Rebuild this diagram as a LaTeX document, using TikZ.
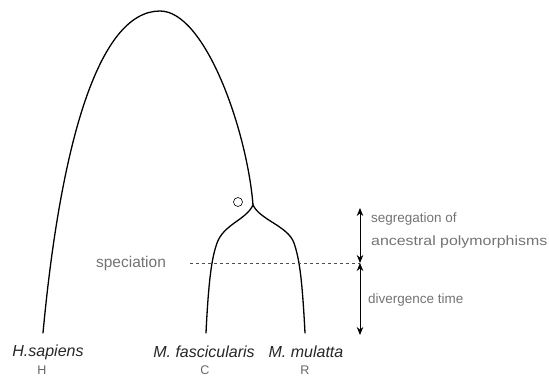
\documentclass[tikz,border=0pt]{standalone}
\usepackage{fontspec}
\setmainfont{Liberation Sans}
\usetikzlibrary{arrows.meta}
\definecolor{txtgray}{gray}{0.45}
\tikzset{
  branch/.style={line width=1.3pt, line cap=round, line join=round},
  species/.style={font=\fontsize{16}{18}\selectfont\itshape, inner sep=0pt, text=black!85},
  letter/.style={font=\fontsize{12.5}{14}\selectfont, inner sep=0pt, text=black!60},
  side/.style={font=\fontsize{13.5}{16}\selectfont, inner sep=0pt, anchor=west, text=txtgray},
  dbl/.style={line width=0.9pt, {Stealth[length=8pt,width=6.5pt]}-{Stealth[length=8pt,width=6.5pt]}}
}
\begin{document}
\begin{tikzpicture}[x=1pt,y=-1pt]
\useasboundingbox (0,0) rectangle (549,377);
% key points
\coordinate (Hb) at (43,333);
\coordinate (P) at (160,11);
\coordinate (J) at (253,205);
\coordinate (Cb) at (206,333);
\coordinate (Rb) at (305,333);
% outer arc (H lineage)
\draw[branch] (Hb) .. controls (60,150) and (97,11) .. (P)
  .. controls (205,11) and (247,130) .. (J);
% C branch
\draw[branch] (J) .. controls (246,220) and (224,224) .. (217,243)
  .. controls (213,255) and (209,270) .. (Cb);
% R branch
\draw[branch] (J) .. controls (260,220) and (288,226) .. (294,243)
  .. controls (299,258) and (302,275) .. (Rb);
% circle O
\node[draw, circle, minimum size=9pt, inner sep=0pt, line width=0.6pt] (O) at (238,202) {};
% speciation line
\coordinate (Sl) at (190,263);
\coordinate (Sr) at (360,263);
\draw[dashed, dash pattern=on 3pt off 3pt, line width=0.5pt, black!70] (Sl) -- (Sr);
\node[font=\fontsize{15.5}{17}\selectfont, text=txtgray, inner sep=0pt] (spec) at (131,263) {speciation};
% arrows
\coordinate (At) at (360,208);
\coordinate (Ab) at (360,335);
\draw[dbl] (At) -- (Sr);
\draw[dbl] (Sr) -- (Ab);
\node[side] (seg) at (371,219) {segregation of};
\node[side] (anc) at (371,242) {\scalebox{1.18}[1]{ancestral polymorphisms}};
\node[side] (div) at (368,300) {divergence time};
% labels
\node[species] (hs) at (48,352) {H.sapiens};
\node[letter] (H) at (42,370) {H};
\node[species] (mf) at (204,352) {M. fascicularis};
\node[letter] (C) at (205,370) {C};
\node[species] (mm) at (306,352) {M. mulatta};
\node[letter] (R) at (305,370) {R};
\end{tikzpicture}
\end{document}
